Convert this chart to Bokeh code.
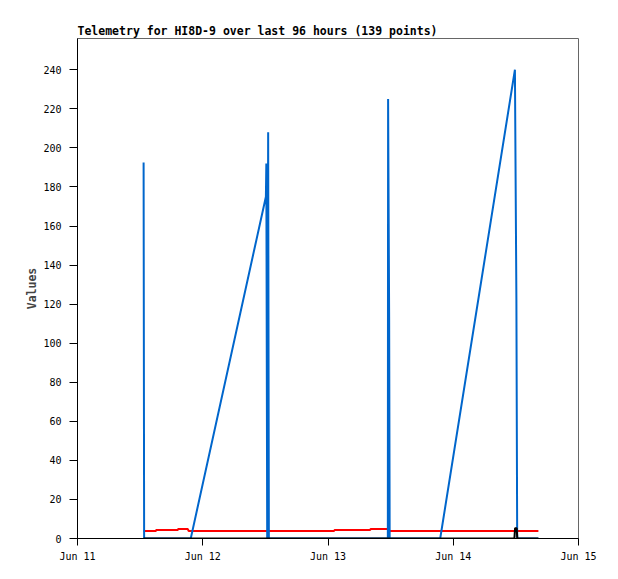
import pandas as pd
from bokeh.plotting import figure
from bokeh.models import (Range1d, DatetimeTickFormatter, DaysTicker,
                          SingleIntervalTicker, ColumnDataSource)
from bokeh.embed import file_html
from bokeh.resources import INLINE

title_text = "Telemetry for HI8D-9 over last 96 hours (139 points)"
y_label = "Values"

blue_times = ["2024-06-11 12:40", "2024-06-11 12:46", "2024-06-11 21:42",
              "2024-06-12 12:06", "2024-06-12 12:11", "2024-06-12 12:21",
              "2024-06-12 12:32", "2024-06-12 12:40", "2024-06-13 11:28",
              "2024-06-13 11:31", "2024-06-13 11:43", "2024-06-13 11:49",
              "2024-06-13 21:30", "2024-06-14 11:49", "2024-06-14 12:06",
              "2024-06-14 12:15", "2024-06-14 16:19"]
blue_values = [192.5, 0, 0, 175, 192, 0, 208, 0, 0, 225, 112, 0, 0, 240, 122, 0, 0]

red_times = ["2024-06-11 12:40", "2024-06-11 15:00", "2024-06-11 15:04",
             "2024-06-11 19:12", "2024-06-11 19:18", "2024-06-11 21:07",
             "2024-06-11 21:19", "2024-06-13 01:09", "2024-06-13 01:15",
             "2024-06-13 08:04", "2024-06-13 08:10", "2024-06-13 11:25",
             "2024-06-13 11:37", "2024-06-14 16:19"]
red_values = [3.8, 3.8, 4.3, 4.3, 4.85, 4.85, 3.8, 3.8, 4.3, 4.3, 4.85, 4.85, 3.8, 3.8]

black_times = ["2024-06-11 12:40", "2024-06-14 11:43", "2024-06-14 11:51",
               "2024-06-14 12:09", "2024-06-14 12:17", "2024-06-14 16:19"]
black_values = [0, 0, 5.3, 5.3, 0, 0]

x_start, x_end = "2024-06-11", "2024-06-15"
y_start, y_end = 0, 256
y_tick_step = 20

p = figure(width=618, height=579, output_backend="svg", toolbar_location=None,
           x_axis_type="datetime",
           x_range=Range1d(pd.Timestamp(x_start), pd.Timestamp(x_end)),
           y_range=Range1d(y_start, y_end),
           min_border_left=77, min_border_top=38, min_border_right=40,
           min_border_bottom=41)
p.background_fill_color = "white"
p.border_fill_color = "white"
p.outline_line_color = "#666666"
p.outline_line_width = 1
p.grid.visible = False

p.title.text = title_text
p.title.align = "left"
p.title.text_font = "DejaVu Sans Mono"
p.title.text_font_size = "11.5px"
p.title.text_font_style = "bold"
p.title.text_color = "black"
p.title.offset = 0
p.title.standoff = 2

red_src = ColumnDataSource(dict(t=pd.to_datetime(red_times), v=red_values))
blue_src = ColumnDataSource(dict(t=pd.to_datetime(blue_times), v=blue_values))
black_src = ColumnDataSource(dict(t=pd.to_datetime(black_times), v=black_values))

p.line("t", "v", source=red_src, line_color="#ff0000", line_width=2)
p.line("t", "v", source=blue_src, line_color="#0066cc", line_width=2)
p.line("t", "v", source=black_src, line_color="#000000", line_width=2)

xa = p.xaxis[0]
xa.ticker = DaysTicker(days=list(range(1, 32)))
xa.formatter = DatetimeTickFormatter(days="%b %d", months="%b %d", hours="%b %d",
                                     hourmin="%b %d", years="%b %d")
ya = p.yaxis[0]
ya.ticker = SingleIntervalTicker(interval=y_tick_step)
ya.axis_label = y_label
ya.axis_label_text_font = "DejaVu Sans Mono"
ya.axis_label_text_font_size = "11.5px"
ya.axis_label_text_font_style = "bold"
ya.axis_label_standoff = 1

for ax in (xa, ya):
    ax.axis_line_color = "black"
    ax.major_tick_line_color = "black"
    ax.minor_tick_line_color = None
    ax.major_tick_in = 0
    ax.major_tick_out = 7
    ax.major_label_text_font = "DejaVu Sans Mono"
    ax.major_label_text_font_size = "10px"
    ax.major_label_text_color = "black"
ya.major_tick_out = 8
ya.major_label_standoff = 8
xa.major_label_standoff = 5

open("out.html", "w").write(file_html(p, INLINE))
